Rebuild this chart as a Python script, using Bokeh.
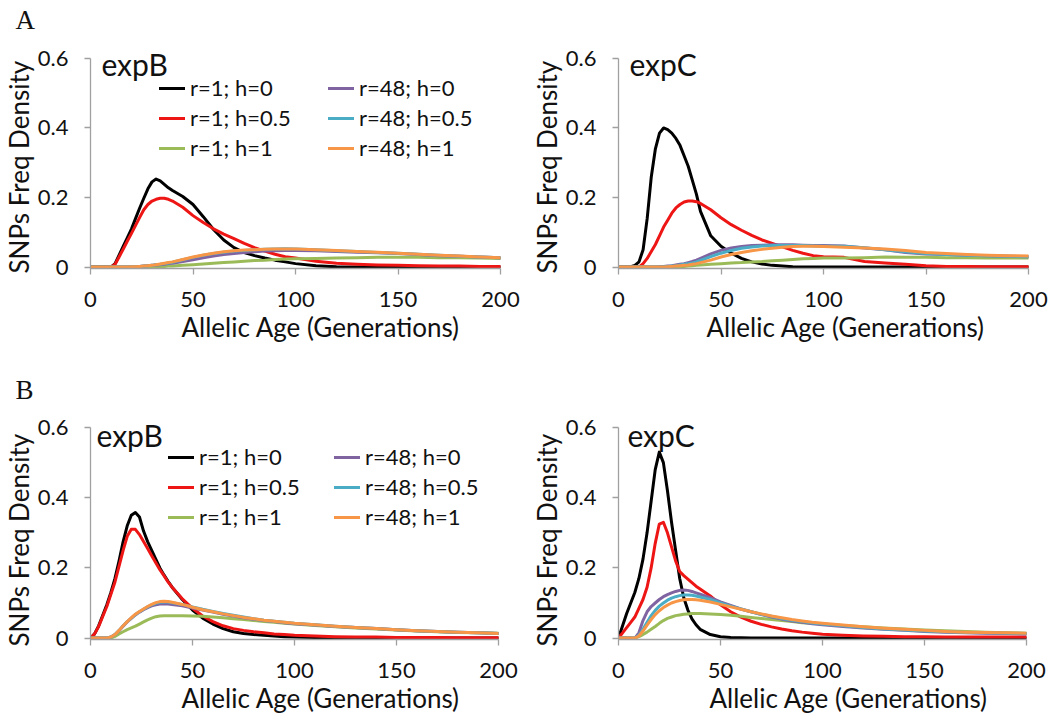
from bokeh.embed import file_html
from bokeh.layouts import column, row
from bokeh.models import FixedTicker, Label, Legend, LegendItem, Range1d, Title
from bokeh.plotting import figure
from bokeh.resources import INLINE

# ---------------------------------------------------------------- data
SERIES = ["r=1; h=0", "r=1; h=0.5", "r=1; h=1", "r=48; h=0", "r=48; h=0.5", "r=48; h=1"]
COLORS = ["#000000", "#ee1515", "#9bbb59", "#8064a2", "#4bacc6", "#f79646"]

X_TICKS = [0, 50, 100, 150, 200]
Y_TICKS = [0, 0.2, 0.4, 0.6]
Y_TICK_LABELS = ["0", "0.2", "0.4", "0.6"]

X_TITLE = "Allelic Age (Generations)"
Y_TITLE = "SNPs Freq Density"

# allelic age (generations) at which the densities are tabulated
AGES = [0, 2, 4, 6, 8, 10, 12, 14, 16, 18, 20, 22, 24, 26, 28, 30, 32, 34, 36, 38, 40,
        45, 50, 55, 60, 65, 70, 75, 80, 85, 90, 95, 100,
        110, 120, 130, 140, 150, 160, 170, 180, 190, 200]

# --- A / expB
A_EXPB_R1_H0 = [0, 0, 0, 0, 0, 0, 0.01, 0.035, 0.06, 0.085, 0.11, 0.14, 0.17, 0.198, 0.225, 0.245, 0.253, 0.248, 0.238, 0.228, 0.22,
                0.203, 0.18, 0.145, 0.108, 0.078, 0.056, 0.042, 0.033, 0.026, 0.02, 0.015, 0.01,
                0.004, 0.001, 0, 0, 0, 0, 0, 0, 0, 0]
A_EXPB_R1_H05 = [0, 0, 0, 0, 0, 0, 0.008, 0.03, 0.052, 0.075, 0.097, 0.12, 0.143, 0.165, 0.18, 0.19, 0.195, 0.198, 0.198, 0.195, 0.19,
                 0.172, 0.148, 0.128, 0.11, 0.095, 0.082, 0.068, 0.056, 0.046, 0.037, 0.03, 0.026,
                 0.017, 0.011, 0.008, 0.006, 0.005, 0.004, 0.003, 0.003, 0.002, 0.002]
A_EXPB_R1_H1 = [0, 0, 0, 0, 0, 0, 0, 0, 0, 0, 0, 0, 0, 0, 0, 0, 0.001, 0.002, 0.002, 0.003, 0.003,
                0.005, 0.007, 0.009, 0.011, 0.013, 0.015, 0.017, 0.019, 0.02, 0.022, 0.023, 0.024,
                0.025, 0.026, 0.027, 0.028, 0.028, 0.028, 0.027, 0.027, 0.026, 0.025]
A_EXPB_R48_H0 = [0, 0, 0, 0, 0, 0, 0, 0, 0, 0, 0.001, 0.001, 0.002, 0.003, 0.004, 0.005, 0.006, 0.007, 0.008, 0.01, 0.011,
                 0.016, 0.021, 0.027, 0.032, 0.036, 0.039, 0.042, 0.044, 0.046, 0.047, 0.048, 0.048,
                 0.047, 0.045, 0.043, 0.041, 0.039, 0.036, 0.033, 0.031, 0.029, 0.027]
A_EXPB_R48_H05 = [0, 0, 0, 0, 0, 0, 0, 0, 0, 0, 0.001, 0.001, 0.002, 0.003, 0.004, 0.005, 0.007, 0.008, 0.01, 0.012, 0.014,
                  0.021, 0.028, 0.034, 0.039, 0.043, 0.046, 0.048, 0.05, 0.051, 0.052, 0.053, 0.052,
                  0.05, 0.047, 0.045, 0.042, 0.04, 0.037, 0.034, 0.031, 0.029, 0.027]
A_EXPB_R48_H1 = [0, 0, 0, 0, 0, 0, 0, 0, 0, 0, 0.001, 0.001, 0.002, 0.003, 0.004, 0.005, 0.007, 0.009, 0.011, 0.013, 0.015,
                 0.022, 0.029, 0.035, 0.04, 0.044, 0.047, 0.049, 0.05, 0.051, 0.052, 0.052, 0.052,
                 0.05, 0.048, 0.045, 0.043, 0.04, 0.037, 0.034, 0.032, 0.029, 0.027]

# --- A / expC
A_EXPC_R1_H0 = [0, 0, 0, 0.001, 0.005, 0.015, 0.05, 0.14, 0.26, 0.34, 0.385, 0.4, 0.395, 0.385, 0.37, 0.35, 0.32, 0.29, 0.25, 0.21, 0.16,
                0.09, 0.06, 0.04, 0.025, 0.015, 0.009, 0.005, 0.003, 0.001, 0, 0, 0,
                0, 0, 0, 0, 0, 0, 0, 0, 0, 0]
A_EXPC_R1_H05 = [0, 0, 0, 0, 0, 0, 0.01, 0.025, 0.045, 0.065, 0.09, 0.115, 0.135, 0.155, 0.17, 0.18, 0.187, 0.19, 0.19, 0.188, 0.183,
                 0.165, 0.142, 0.122, 0.106, 0.091, 0.078, 0.068, 0.058, 0.048, 0.04, 0.033, 0.03,
                 0.028, 0.016, 0.012, 0.008, 0.004, 0.002, 0.002, 0.001, 0.001, 0.001]
A_EXPC_R1_H1 = [0, 0, 0, 0, 0, 0, 0, 0, 0, 0, 0, 0, 0, 0, 0, 0.001, 0.002, 0.003, 0.004, 0.005, 0.006,
                0.008, 0.01, 0.012, 0.013, 0.015, 0.016, 0.018, 0.02, 0.022, 0.024, 0.025, 0.026,
                0.026, 0.027, 0.029, 0.028, 0.028, 0.027, 0.027, 0.026, 0.026, 0.026]
A_EXPC_R48_H0 = [0, 0, 0, 0, 0, 0, 0, 0, 0, 0, 0.001, 0.002, 0.003, 0.004, 0.006, 0.008, 0.01, 0.013, 0.016, 0.02, 0.025,
                 0.038, 0.048, 0.055, 0.059, 0.062, 0.063, 0.064, 0.064, 0.064, 0.063, 0.062, 0.062,
                 0.061, 0.055, 0.05, 0.042, 0.038, 0.036, 0.034, 0.033, 0.031, 0.03]
A_EXPC_R48_H05 = [0, 0, 0, 0, 0, 0, 0, 0, 0, 0, 0, 0.001, 0.002, 0.003, 0.004, 0.006, 0.008, 0.01, 0.012, 0.015, 0.019,
                  0.03, 0.04, 0.048, 0.054, 0.058, 0.061, 0.062, 0.062, 0.062, 0.062, 0.061, 0.06,
                  0.06, 0.056, 0.05, 0.044, 0.039, 0.036, 0.034, 0.033, 0.031, 0.03]
A_EXPC_R48_H1 = [0, 0, 0, 0, 0, 0, 0, 0, 0, 0, 0, 0, 0.001, 0.002, 0.003, 0.004, 0.005, 0.006, 0.008, 0.01, 0.013,
                 0.02, 0.029, 0.036, 0.042, 0.047, 0.051, 0.054, 0.057, 0.059, 0.06, 0.06, 0.059,
                 0.057, 0.055, 0.052, 0.048, 0.042, 0.039, 0.036, 0.034, 0.033, 0.032]

# --- B / expB
B_EXPB_R1_H0 = [0, 0.012, 0.035, 0.065, 0.095, 0.13, 0.17, 0.22, 0.275, 0.32, 0.35, 0.358, 0.345, 0.305, 0.275, 0.25, 0.225, 0.2, 0.18, 0.162, 0.145,
                0.11, 0.08, 0.057, 0.04, 0.027, 0.018, 0.013, 0.01, 0.008, 0.006, 0.004, 0.003,
                0.002, 0.001, 0.001, 0, 0, 0, 0, 0, 0, 0]
B_EXPB_R1_H05 = [0, 0.012, 0.033, 0.062, 0.09, 0.125, 0.16, 0.205, 0.25, 0.29, 0.31, 0.31, 0.295, 0.275, 0.255, 0.235, 0.215, 0.195, 0.178, 0.16, 0.145,
                 0.112, 0.085, 0.063, 0.047, 0.035, 0.027, 0.022, 0.018, 0.015, 0.012, 0.01, 0.008,
                 0.006, 0.004, 0.003, 0.003, 0.002, 0.002, 0.002, 0.001, 0.001, 0.001]
B_EXPB_R1_H1 = [0, 0, 0, 0, 0, 0, 0.005, 0.012, 0.018, 0.024, 0.029, 0.034, 0.04, 0.046, 0.052, 0.057, 0.061, 0.063, 0.064, 0.064, 0.064,
                0.064, 0.063, 0.062, 0.06, 0.058, 0.055, 0.053, 0.05, 0.047, 0.045, 0.042, 0.04,
                0.036, 0.032, 0.029, 0.026, 0.023, 0.02, 0.018, 0.016, 0.015, 0.014]
B_EXPB_R48_H0 = [0, 0, 0, 0, 0, 0.003, 0.01, 0.021, 0.034, 0.046, 0.056, 0.066, 0.074, 0.081, 0.087, 0.092, 0.095, 0.097, 0.097, 0.097, 0.096,
                 0.092, 0.086, 0.08, 0.074, 0.068, 0.063, 0.058, 0.054, 0.05, 0.047, 0.044, 0.041,
                 0.037, 0.033, 0.03, 0.027, 0.024, 0.021, 0.019, 0.017, 0.015, 0.013]
B_EXPB_R48_H05 = [0, 0, 0, 0, 0, 0.003, 0.01, 0.022, 0.035, 0.047, 0.057, 0.067, 0.075, 0.082, 0.089, 0.095, 0.099, 0.102, 0.103, 0.103, 0.101,
                  0.096, 0.089, 0.082, 0.076, 0.07, 0.065, 0.06, 0.055, 0.051, 0.048, 0.045, 0.042,
                  0.038, 0.034, 0.03, 0.027, 0.024, 0.021, 0.019, 0.017, 0.015, 0.013]
B_EXPB_R48_H1 = [0, 0, 0, 0, 0, 0.003, 0.01, 0.022, 0.035, 0.047, 0.058, 0.068, 0.076, 0.083, 0.09, 0.096, 0.101, 0.104, 0.105, 0.104, 0.102,
                 0.096, 0.088, 0.081, 0.075, 0.069, 0.064, 0.059, 0.055, 0.051, 0.048, 0.045, 0.042,
                 0.038, 0.034, 0.03, 0.027, 0.024, 0.021, 0.019, 0.017, 0.015, 0.013]

# --- B / expC
B_EXPC_R1_H0 = [0, 0.035, 0.07, 0.1, 0.13, 0.17, 0.225, 0.3, 0.39, 0.48, 0.53, 0.5, 0.42, 0.33, 0.25, 0.17, 0.115, 0.08, 0.055, 0.038, 0.025,
                0.01, 0.004, 0.002, 0.001, 0, 0, 0, 0, 0, 0, 0, 0,
                0, 0, 0, 0, 0, 0, 0, 0, 0, 0]
B_EXPC_R1_H05 = [0, 0.015, 0.03, 0.045, 0.06, 0.085, 0.11, 0.145, 0.2, 0.27, 0.325, 0.33, 0.3, 0.26, 0.22, 0.19, 0.178, 0.168, 0.158, 0.148, 0.14,
                 0.12, 0.095, 0.075, 0.06, 0.048, 0.039, 0.032, 0.026, 0.021, 0.017, 0.014, 0.011,
                 0.008, 0.006, 0.005, 0.004, 0.004, 0.003, 0.003, 0.003, 0.003, 0.003]
B_EXPC_R1_H1 = [0, 0, 0, 0, 0, 0.004, 0.01, 0.017, 0.025, 0.033, 0.042, 0.05, 0.056, 0.06, 0.064, 0.066, 0.068, 0.069, 0.07, 0.07, 0.07,
                0.069, 0.067, 0.065, 0.062, 0.059, 0.056, 0.053, 0.05, 0.047, 0.044, 0.042, 0.04,
                0.036, 0.032, 0.029, 0.026, 0.023, 0.021, 0.019, 0.017, 0.015, 0.014]
B_EXPC_R48_H0 = [0, 0, 0, 0, 0, 0.015, 0.05, 0.075, 0.09, 0.1, 0.11, 0.118, 0.124, 0.129, 0.133, 0.136, 0.137, 0.136, 0.133, 0.129, 0.125,
                 0.115, 0.103, 0.093, 0.083, 0.075, 0.067, 0.06, 0.054, 0.049, 0.045, 0.041, 0.038,
                 0.033, 0.029, 0.025, 0.022, 0.019, 0.017, 0.015, 0.014, 0.013, 0.012]
B_EXPC_R48_H05 = [0, 0, 0, 0, 0, 0.008, 0.025, 0.045, 0.064, 0.079, 0.091, 0.1, 0.108, 0.114, 0.118, 0.121, 0.123, 0.123, 0.122, 0.12, 0.117,
                  0.11, 0.1, 0.091, 0.083, 0.075, 0.068, 0.062, 0.056, 0.051, 0.047, 0.043, 0.04,
                  0.035, 0.03, 0.026, 0.023, 0.02, 0.018, 0.016, 0.015, 0.014, 0.013]
B_EXPC_R48_H1 = [0, 0, 0, 0, 0, 0.006, 0.02, 0.037, 0.053, 0.067, 0.078, 0.087, 0.094, 0.1, 0.104, 0.107, 0.109, 0.11, 0.11, 0.109, 0.108,
                 0.103, 0.096, 0.089, 0.082, 0.075, 0.069, 0.063, 0.058, 0.053, 0.049, 0.045, 0.042,
                 0.037, 0.032, 0.028, 0.025, 0.022, 0.019, 0.017, 0.016, 0.015, 0.014]

# ---------------------------------------------------------------- styling
FONT = "Lato"
SERIF = "Liberation Serif"
TEXT_COLOR = "#111111"
AXIS_COLOR = "#a0a0a0"
X_RANGE = (0, 200)
Y_RANGE = (-0.004, 0.66)
FIG_W, FIG_H = 528, 359


def to_data(geom, px, py):
    """Convert a canvas pixel position (origin top-left) to data units."""
    left, top, fw, fh = geom
    x = X_RANGE[0] + (px - left) / fw * (X_RANGE[1] - X_RANGE[0])
    y = Y_RANGE[1] - (py - top) / fh * (Y_RANGE[1] - Y_RANGE[0])
    return x, y


def side_title(p, text, side, offset, size, font=FONT, standoff=0, valign="middle", line_height=1.2):
    p.add_layout(Title(text=text, align="left", offset=offset, standoff=standoff,
                       vertical_align=valign, text_font=font, text_font_size=size,
                       text_font_style="normal", text_color=TEXT_COLOR,
                       text_line_height=line_height), side)


def make_panel(name, series, geom, borders, legend_pos=None, letter=None,
               xtitle_offset=91, ytitle_offset=-5, name_px=(100, 63), letter_standoff=5):
    left, top, right, bottom = borders
    p = figure(width=FIG_W, height=FIG_H,
               x_range=Range1d(*X_RANGE), y_range=Range1d(*Y_RANGE),
               output_backend="svg", toolbar_location=None,
               min_border_left=left, min_border_right=right,
               min_border_top=top, min_border_bottom=bottom,
               background_fill_color="white", border_fill_color="white")
    p.outline_line_color = None
    p.xgrid.visible = False
    p.ygrid.visible = False

    for ax in (p.xaxis[0], p.yaxis[0]):
        ax.axis_line_color = AXIS_COLOR
        ax.axis_line_width = 1.3
        ax.major_tick_line_color = AXIS_COLOR
        ax.major_tick_line_width = 1.3
        ax.major_tick_in = 0
        ax.major_tick_out = 6
        ax.minor_tick_line_color = None
        ax.major_label_text_font = FONT
        ax.major_label_text_font_size = "22px"
        ax.major_label_text_color = TEXT_COLOR
    p.xaxis.major_label_standoff = 17
    p.yaxis.major_label_standoff = 16
    p.xaxis.ticker = FixedTicker(ticks=X_TICKS)
    p.xaxis.bounds = (X_TICKS[0], X_TICKS[-1])
    p.yaxis.ticker = FixedTicker(ticks=Y_TICKS)
    p.yaxis.bounds = (Y_TICKS[0], Y_TICKS[-1])
    p.yaxis.major_label_overrides = dict(zip(Y_TICKS, Y_TICK_LABELS))

    renderers = []
    for vals, color in zip(series, COLORS):
        r = p.line(AGES, vals, line_color=color, line_width=3, line_join="round", line_cap="round")
        renderers.append(r)

    # axis titles sit outside the axes, shifted along them like the original layout
    side_title(p, X_TITLE, "below", xtitle_offset, "26px")
    side_title(p, Y_TITLE, "left", ytitle_offset, "26px", valign="bottom", line_height=0.9)
    if letter is not None:
        side_title(p, letter, "above", -75, "27px", font=SERIF, standoff=letter_standoff, valign="bottom")

    # experiment name in the top-left corner of the plot area
    nx, ny = to_data(geom, *name_px)
    p.add_layout(Label(x=nx, y=ny, text=name, text_font=FONT, text_font_size="30px",
                       text_color=TEXT_COLOR, text_align="left", text_baseline="alphabetic"))

    if legend_pos is not None:
        for col, (lx, ly) in enumerate(legend_pos):
            items = [LegendItem(label=SERIES[i], renderers=[renderers[i]]) for i in range(col * 3, col * 3 + 3)]
            leg = Legend(items=items, location=(lx, ly), orientation="vertical",
                         background_fill_alpha=0, border_line_color=None,
                         padding=0, margin=0, spacing=3,
                         glyph_width=26, glyph_height=20, label_height=20, label_standoff=5,
                         label_text_font=FONT, label_text_font_size="22px",
                         label_text_color=TEXT_COLOR)
            p.add_layout(leg)
    return p


# frame geometry per row: (left, top, width, height) and borders (left, top, right, bottom)
GEOM_A = (89, 37, 411, 231)
BORD_A = (89, 37, 28, 91)
GEOM_B = (89, 47, 409, 233)
BORD_B = (89, 47, 30, 79)

pa1 = make_panel("expB", [A_EXPB_R1_H0, A_EXPB_R1_H05, A_EXPB_R1_H1, A_EXPB_R48_H0, A_EXPB_R48_H05, A_EXPB_R48_H1],
                 GEOM_A, BORD_A, legend_pos=[(69, 107), (238, 107)], letter="A",
                 xtitle_offset=91, ytitle_offset=-5, name_px=(100, 63), letter_standoff=5)
pa2 = make_panel("expC", [A_EXPC_R1_H0, A_EXPC_R1_H05, A_EXPC_R1_H1, A_EXPC_R48_H0, A_EXPC_R48_H05, A_EXPC_R48_H1],
                 GEOM_A, BORD_A, xtitle_offset=88, ytitle_offset=-5, name_px=(100, 63))
pb1 = make_panel("expB", [B_EXPB_R1_H0, B_EXPB_R1_H05, B_EXPB_R1_H1, B_EXPB_R48_H0, B_EXPB_R48_H05, B_EXPB_R48_H1],
                 GEOM_B, BORD_B, legend_pos=[(78, 109), (244, 109)], letter="B",
                 xtitle_offset=91, ytitle_offset=-7, name_px=(95, 75), letter_standoff=3)
pb2 = make_panel("expC", [B_EXPC_R1_H0, B_EXPC_R1_H05, B_EXPC_R1_H1, B_EXPC_R48_H0, B_EXPC_R48_H05, B_EXPC_R48_H1],
                 GEOM_B, BORD_B, xtitle_offset=91, ytitle_offset=-7, name_px=(98, 75))

layout = column(row(pa1, pa2, spacing=0), row(pb1, pb2, spacing=0), spacing=0)

with open("out.html", "w") as f:
    f.write(file_html(layout, INLINE))
